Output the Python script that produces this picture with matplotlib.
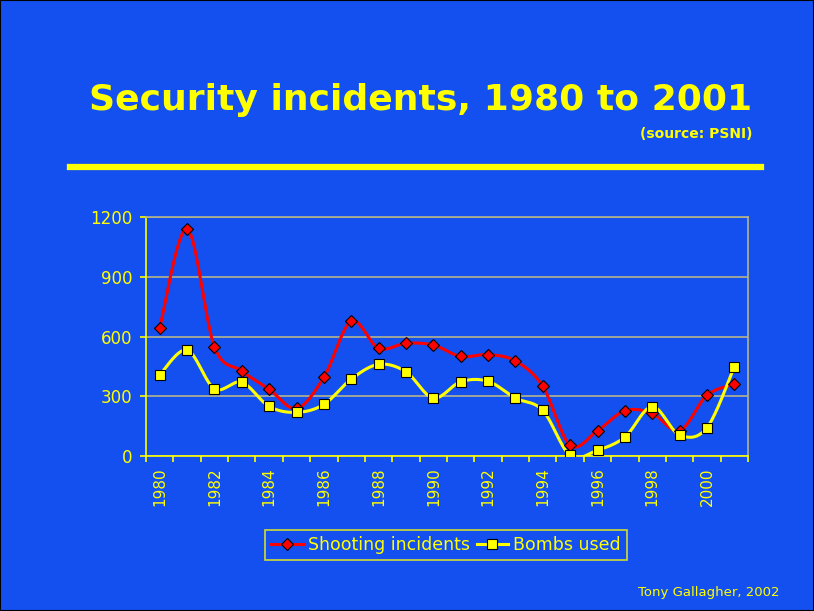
import numpy as np
import matplotlib
matplotlib.use("Agg")
import matplotlib.pyplot as plt
from matplotlib.lines import Line2D

years = list(range(1980, 2002))
shooting = [644, 1140, 549, 427, 335, 239, 395, 676, 541, 566, 557,
            500, 509, 477, 350, 54, 127, 227, 214, 127, 305, 360]
bombs = [407, 532, 338, 370, 249, 219, 259, 386, 460, 423, 291,
         373, 375, 291, 229, 3, 29, 95, 248, 105, 142, 448]

BG = '#1450F0'
YEL = '#FFFF00'
GRID = '#B4B48C'


def smooth(xs, ys, n=20):
    # excel style smoothed line (bezier through points, catmull-rom controls)
    xs = np.asarray(xs, float)
    ys = np.asarray(ys, float)
    px = np.concatenate([[xs[0]], xs, [xs[-1]]])
    py = np.concatenate([[ys[0]], ys, [ys[-1]]])
    t = np.linspace(0, 1, n)[:, None]
    outx, outy = [], []
    for i in range(1, len(px) - 2):
        p0 = np.array([px[i], py[i]])
        p3 = np.array([px[i + 1], py[i + 1]])
        c1 = p0 + (p3 - np.array([px[i - 1], py[i - 1]])) / 6
        c2 = p3 - (np.array([px[i + 2], py[i + 2]]) - p0) / 6
        b = ((1 - t) ** 3) * p0 + 3 * ((1 - t) ** 2) * t * c1 + 3 * (1 - t) * t ** 2 * c2 + t ** 3 * p3
        outx.extend(b[:, 0])
        outy.extend(b[:, 1])
    return outx, outy


fig = plt.figure(figsize=(8.14, 6.11), dpi=100, facecolor=BG)

fig.text(0.517, 0.836, 'Security incidents, 1980 to 2001', color=YEL,
         fontsize=26, fontweight='bold', ha='center', va='center')
fig.text(0.924, 0.78, '(source: PSNI)', color=YEL, fontsize=10,
         fontweight='bold', ha='right', va='center')
fig.add_artist(Line2D([70 / 814, 761 / 814], [1 - 167 / 611, 1 - 167 / 611],
                      color=YEL, lw=4.5, transform=fig.transFigure))
fig.text(0.958, 0.03, 'Tony Gallagher, 2002', color=YEL, fontsize=9.5,
         ha='right', va='center')
fig.add_artist(plt.Rectangle((0, 0), 1, 1, transform=fig.transFigure,
                             fill=False, ec='black', lw=1.5))

ax = fig.add_axes([146 / 814, 1 - 456 / 611, 602 / 814, 239 / 611])
ax.set_facecolor(BG)

x = np.arange(len(years))
sx, sy = smooth(x, shooting)
bx, by = smooth(x, bombs)
ax.plot(sx, sy, color='#FF0000', lw=2.2, zorder=3)
ax.plot(bx, by, color=YEL, lw=2.2, zorder=4)
ax.plot(x, shooting, ls='none', marker='D', ms=6.5, mfc='#FF0000',
        mec='black', mew=0.8, zorder=5)
ax.plot(x, bombs, ls='none', marker='s', ms=7, mfc=YEL,
        mec='black', mew=0.8, zorder=6)

ax.set_xlim(-0.5, len(years) - 0.5)
ax.set_ylim(0, 1200)
ax.set_yticks([0, 300, 600, 900, 1200])
ax.yaxis.grid(True, color=GRID, lw=1.2)
ax.set_axisbelow(True)

ax.set_xticks(x[::2])
ax.set_xticklabels([str(y) for y in years[::2]], rotation=90)
ax.set_xticks(np.arange(-0.5, len(years)), minor=True)
ax.tick_params(axis='x', which='major', length=0, pad=8, colors=YEL, labelsize=11)
ax.tick_params(axis='x', which='minor', length=4, color=YEL, width=1.2)
ax.tick_params(axis='y', length=4, color=YEL, width=1.2, colors=YEL, labelsize=12, pad=6)

ax.spines['left'].set_color(YEL)
ax.spines['bottom'].set_color(YEL)
ax.spines['top'].set_color(GRID)
ax.spines['right'].set_color(GRID)
for s in ax.spines.values():
    s.set_linewidth(1.2)

h1 = Line2D([], [], color='#FF0000', lw=2.2, marker='D', ms=6.5,
            mfc='#FF0000', mec='black', mew=0.8)
h2 = Line2D([], [], color=YEL, lw=2.2, marker='s', ms=7,
            mfc=YEL, mec='black', mew=0.8)
leg = fig.legend([h1, h2], ['Shooting incidents', 'Bombs used'], ncol=2,
                 loc='center', bbox_to_anchor=(446 / 814, 1 - 545 / 611),
                 frameon=True, fancybox=False, fontsize=12.5,
                 handlelength=1.8, handletextpad=0.3, columnspacing=0.4,
                 borderpad=0.35, labelcolor=YEL)
leg.get_frame().set_facecolor(BG)
leg.get_frame().set_edgecolor(YEL)
leg.get_frame().set_linewidth(1.2)

fig.savefig('out.png', dpi=100, facecolor=BG)
